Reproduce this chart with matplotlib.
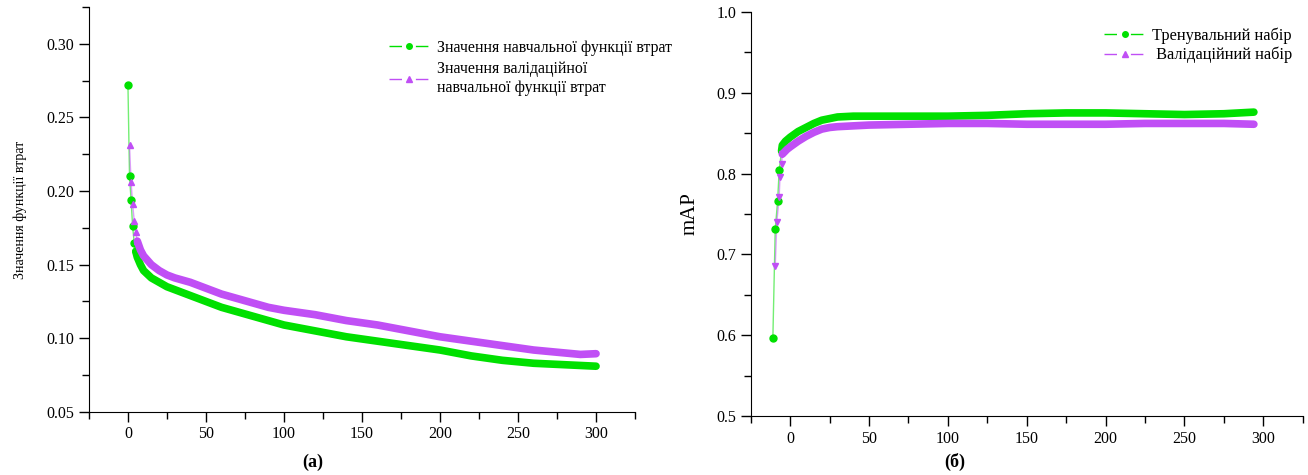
import matplotlib.pyplot as plt
from matplotlib.lines import Line2D
from matplotlib.ticker import MultipleLocator

plt.rcParams['font.family'] = ['Liberation Serif', 'DejaVu Serif']

GREEN = '#00e000'
PURPLE = '#c04ff5'

# (a) loss curves
loss_train_x = [0, 1, 2, 3, 4, 5, 6, 8, 10, 15, 20, 25, 30, 40, 50, 60, 70, 80, 90, 100,
                120, 140, 160, 180, 200, 220, 240, 260, 280, 300]
loss_train_y = [0.272, 0.210, 0.194, 0.176, 0.165, 0.159, 0.155, 0.150, 0.146, 0.141,
                0.138, 0.135, 0.133, 0.129, 0.125, 0.121, 0.118, 0.115, 0.112, 0.109,
                0.105, 0.101, 0.098, 0.095, 0.092, 0.088, 0.085, 0.083, 0.082, 0.081]
loss_val_x = [1, 2, 3, 4, 5, 6, 8, 10, 15, 20, 25, 30, 40, 50, 60, 70, 80, 90, 100,
              120, 140, 160, 180, 200, 220, 240, 260, 280, 290, 300]
loss_val_y = [0.231, 0.206, 0.191, 0.180, 0.172, 0.166, 0.160, 0.156, 0.150, 0.146,
              0.143, 0.141, 0.138, 0.134, 0.130, 0.127, 0.124, 0.121, 0.119,
              0.116, 0.112, 0.109, 0.105, 0.101, 0.098, 0.095, 0.092, 0.090, 0.089, 0.0895]

# (б) mAP curves
map_train_x = [-11, -9.5, -8, -7, -5.5, -5, -3, 0, 5, 10, 15, 20, 25, 30, 40, 50, 75, 100,
               125, 150, 175, 200, 225, 250, 275, 294]
map_train_y = [0.597, 0.731, 0.766, 0.804, 0.828, 0.835, 0.840, 0.845, 0.852, 0.857,
               0.862, 0.866, 0.868, 0.870, 0.871, 0.871, 0.871, 0.871, 0.872, 0.874,
               0.875, 0.875, 0.874, 0.873, 0.874, 0.876]
map_val_x = [-9.5, -8.5, -7, -6.5, -5.5, -5, -4, -2, 0, 5, 10, 15, 20, 25, 30, 40, 50, 75,
             100, 125, 150, 175, 200, 225, 250, 275, 294]
map_val_y = [0.686, 0.740, 0.771, 0.796, 0.812, 0.824, 0.826, 0.830, 0.833, 0.840, 0.846,
             0.851, 0.855, 0.857, 0.858, 0.859, 0.860, 0.861, 0.862, 0.862, 0.861,
             0.861, 0.861, 0.862, 0.862, 0.862, 0.861]


def draw(ax, x, y, color, marker, n_thin):
    # thin connecting line, markers on the steep start, thick band after
    ax.plot(x, y, color=color, lw=1, alpha=0.55, zorder=2)
    ax.plot(x[:n_thin], y[:n_thin], ls='none', marker=marker, ms=5,
            color=color, mec=color, zorder=3)
    ax.plot(x[n_thin - 1:], y[n_thin - 1:], color=color, lw=5.5,
            solid_capstyle='round', zorder=3)


def style(ax):
    for s in ('top', 'right'):
        ax.spines[s].set_visible(False)
    ax.tick_params(which='major', direction='out', length=7, width=1, labelsize=11.5)
    ax.tick_params(which='minor', direction='out', length=5, width=1)
    ax.set_xlim(-25, 325)
    ax.xaxis.set_major_locator(MultipleLocator(50))
    ax.xaxis.set_minor_locator(MultipleLocator(25))


fig = plt.figure(figsize=(13.08, 4.75), dpi=100)

ax1 = fig.add_axes([0.068, 0.133, 0.4175, 0.852])
draw(ax1, loss_train_x, loss_train_y, GREEN, 'o', 6)
draw(ax1, loss_val_x, loss_val_y, PURPLE, '^', 6)
style(ax1)
ax1.set_ylim(0.05, 0.325)
ax1.set_yticks([0.05, 0.10, 0.15, 0.20, 0.25, 0.30])
ax1.yaxis.set_major_formatter(plt.FormatStrFormatter('%.2f'))
ax1.yaxis.set_minor_locator(MultipleLocator(0.025))
ax1.set_ylabel('Значення функції втрат', fontsize=10, labelpad=14)

ax2 = fig.add_axes([0.574, 0.124, 0.422, 0.851])
draw(ax2, map_train_x, map_train_y, GREEN, 'o', 5)
draw(ax2, map_val_x, map_val_y, PURPLE, 'v', 6)
style(ax2)
ax2.set_ylim(0.5, 1.0)
ax2.yaxis.set_major_locator(MultipleLocator(0.1))
ax2.yaxis.set_minor_locator(MultipleLocator(0.05))
ax2.yaxis.set_major_formatter(plt.FormatStrFormatter('%.1f'))
ax2.set_ylabel('mAP', fontsize=15, labelpad=12)


def handle(color, marker):
    return Line2D([], [], color=color, lw=1, ls=(0, (9, 10)), marker=marker,
                  ms=4, mec=color, mfc=color)


fig.legend([handle(GREEN, 'o'), handle(PURPLE, '^')],
           ['Значення навчальної функції втрат',
            'Значення валідаційної\nнавчальної функції втрат'],
           loc='upper left', bbox_to_anchor=(381 / 1308, 1 - 32 / 475),
           frameon=False, fontsize=11.4, handlelength=2.6, handletextpad=0.45,
           labelspacing=0.35, borderpad=0)
fig.legend([handle(GREEN, 'o'), handle(PURPLE, '^')],
           ['Тренувальний набір', ' Валідаційний набір'],
           loc='upper left', bbox_to_anchor=(1096 / 1308, 1 - 19 / 475),
           frameon=False, fontsize=11.8, handlelength=2.5, handletextpad=0.4,
           labelspacing=0.2, borderpad=0)

fig.text(313 / 1308, 1 - 462 / 475, '(a)', fontsize=13, fontweight='bold',
         ha='center', va='center')
fig.text(955 / 1308, 1 - 462 / 475, '(б)', fontsize=13, fontweight='bold',
         ha='center', va='center')

fig.savefig('out.png', dpi=100)
plt.close(fig)
